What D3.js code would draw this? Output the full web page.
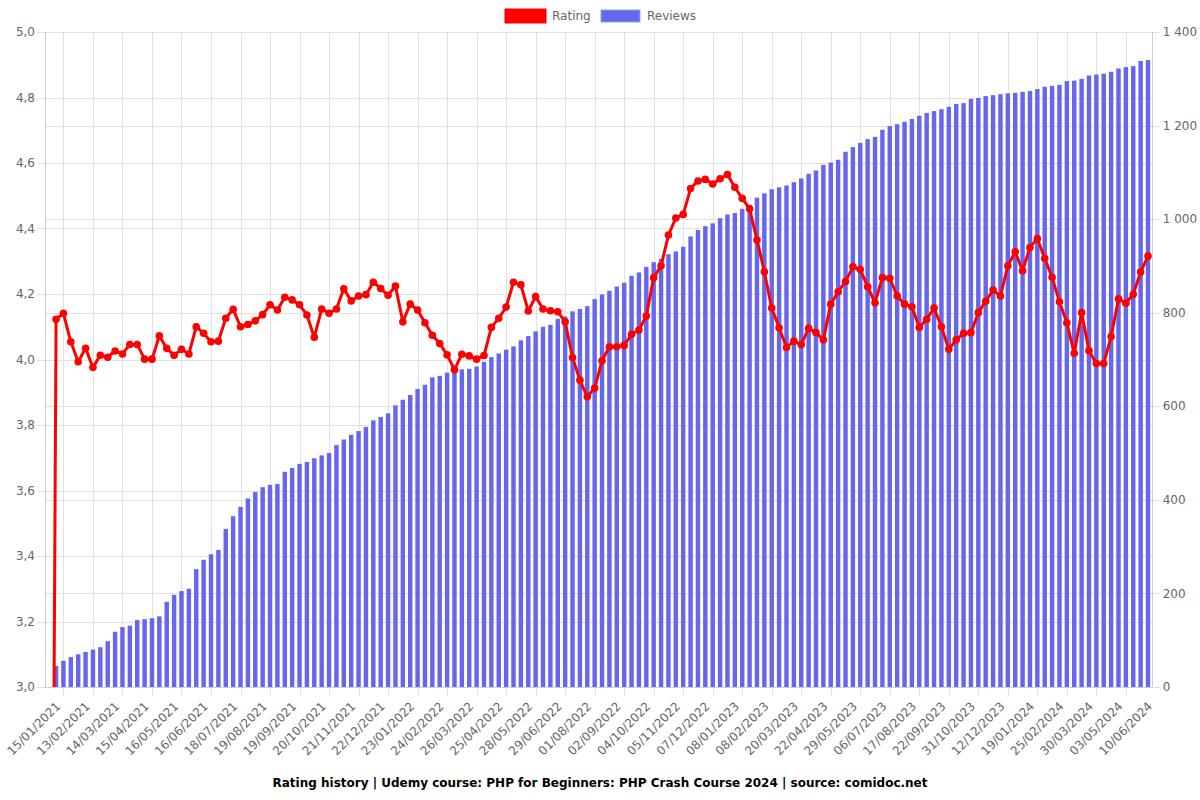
<!DOCTYPE html>
<html>
<head>
<meta charset="utf-8">
<script src="https://cdn.jsdelivr.net/npm/d3@7"></script>
<style>
  html, body { margin: 0; padding: 0; background: #fff; }
  svg { display: block; font-family: "DejaVu Sans", sans-serif; }
</style>
</head>
<body>
<svg id="chart" width="1200" height="800"></svg>
<script>
// ---------------- DATA ----------------
const dates = [
  "08/01/2021",
  "15/01/2021","22/01/2021","29/01/2021","06/02/2021",
  "13/02/2021","20/02/2021","27/02/2021","07/03/2021",
  "14/03/2021","22/03/2021","30/03/2021","07/04/2021",
  "15/04/2021","23/04/2021","30/04/2021","08/05/2021",
  "16/05/2021","24/05/2021","01/06/2021","08/06/2021",
  "16/06/2021","24/06/2021","02/07/2021","10/07/2021",
  "18/07/2021","26/07/2021","03/08/2021","11/08/2021",
  "19/08/2021","27/08/2021","04/09/2021","11/09/2021",
  "19/09/2021","27/09/2021","05/10/2021","12/10/2021",
  "20/10/2021","28/10/2021","05/11/2021","13/11/2021",
  "21/11/2021","29/11/2021","06/12/2021","14/12/2021",
  "22/12/2021","30/12/2021","07/01/2022","15/01/2022",
  "23/01/2022","31/01/2022","08/02/2022","16/02/2022",
  "24/02/2022","04/03/2022","11/03/2022","18/03/2022",
  "26/03/2022","02/04/2022","10/04/2022","17/04/2022",
  "25/04/2022","03/05/2022","11/05/2022","19/05/2022",
  "28/05/2022","05/06/2022","13/06/2022","21/06/2022",
  "29/06/2022","07/07/2022","15/07/2022","23/07/2022",
  "01/08/2022","09/08/2022","17/08/2022","25/08/2022",
  "02/09/2022","10/09/2022","18/09/2022","26/09/2022",
  "04/10/2022","12/10/2022","20/10/2022","28/10/2022",
  "05/11/2022","13/11/2022","21/11/2022","29/11/2022",
  "07/12/2022","15/12/2022","23/12/2022","31/12/2022",
  "08/01/2023","16/01/2023","24/01/2023","31/01/2023",
  "08/02/2023","18/02/2023","28/02/2023","10/03/2023",
  "20/03/2023","28/03/2023","05/04/2023","14/04/2023",
  "22/04/2023","01/05/2023","10/05/2023","20/05/2023",
  "29/05/2023","07/06/2023","17/06/2023","27/06/2023",
  "06/07/2023","17/07/2023","27/07/2023","06/08/2023",
  "17/08/2023","26/08/2023","04/09/2023","13/09/2023",
  "22/09/2023","02/10/2023","12/10/2023","21/10/2023",
  "31/10/2023","10/11/2023","21/11/2023","01/12/2023",
  "12/12/2023","21/12/2023","31/12/2023","09/01/2024",
  "19/01/2024","28/01/2024","06/02/2024","16/02/2024",
  "25/02/2024","04/03/2024","13/03/2024","21/03/2024",
  "30/03/2024","08/04/2024","16/04/2024","25/04/2024",
  "03/05/2024","13/05/2024","22/05/2024","31/05/2024",
  "10/06/2024"
];

const rating = [
  0,
  4.123,4.141,4.054,3.993,4.034,3.976,4.013,4.007,4.026,4.017,
  4.046,4.046,4.001,4.001,4.072,4.034,4.013,4.031,4.017,4.100,
  4.080,4.054,4.056,4.126,4.153,4.100,4.107,4.118,4.137,4.167,
  4.151,4.190,4.182,4.167,4.136,4.068,4.154,4.141,4.154,4.216,
  4.179,4.194,4.198,4.236,4.217,4.196,4.224,4.115,4.169,4.151,
  4.112,4.074,4.049,4.014,3.969,4.016,4.011,4.001,4.012,4.098,
  4.126,4.160,4.236,4.228,4.148,4.192,4.154,4.149,4.146,4.115,
  4.006,3.937,3.886,3.913,3.996,4.039,4.039,4.043,4.077,4.090,
  4.133,4.250,4.286,4.380,4.432,4.443,4.522,4.545,4.550,4.536,
  4.552,4.565,4.526,4.492,4.460,4.365,4.268,4.157,4.097,4.037,
  4.056,4.046,4.095,4.082,4.060,4.169,4.207,4.238,4.283,4.275,
  4.222,4.173,4.250,4.248,4.194,4.169,4.161,4.098,4.123,4.157,
  4.100,4.031,4.060,4.080,4.082,4.143,4.178,4.212,4.194,4.286,
  4.329,4.271,4.342,4.369,4.309,4.251,4.176,4.112,4.019,4.143,
  4.027,3.988,3.988,4.070,4.185,4.172,4.199,4.267,4.316
];

const reviews = [
  0,
  45,56,64,70,75,80,85,98,118,128,
  131,143,145,147,151,182,197,205,210,252,
  272,284,293,338,365,385,403,417,427,432,
  434,460,468,477,481,489,495,500,517,529,
  539,547,556,570,577,585,602,614,624,637,
  646,662,665,672,678,679,680,685,695,705,
  713,721,728,741,750,760,770,774,787,792,
  803,808,814,829,839,847,856,864,879,886,
  898,908,915,925,931,941,963,977,985,991,
  1002,1010,1013,1022,1031,1046,1055,1064,1068,1072,
  1079,1087,1097,1104,1116,1121,1127,1144,1154,1163,
  1171,1176,1191,1199,1203,1208,1214,1221,1227,1231,
  1235,1240,1246,1248,1257,1259,1263,1265,1267,1269,
  1270,1272,1274,1278,1283,1285,1287,1295,1296,1300,
  1307,1309,1311,1315,1322,1325,1327,1338,1340
];

const ratingTicks = [3.0,3.2,3.4,3.6,3.8,4.0,4.2,4.4,4.6,4.8,5.0];
const ratingTickLabels = ["3,0","3,2","3,4","3,6","3,8","4,0","4,2","4,4","4,6","4,8","5,0"];
const reviewTicks = [0,200,400,600,800,1000,1200,1400];
const reviewTickLabels = ["0","200","400","600","800","1\u00a0000","1\u00a0200","1\u00a0400"];

const seriesNames = ["Rating","Reviews"];
const seriesColors = ["#ff0000","#6666ee"];
const titleText = "Rating history | Udemy course: PHP for Beginners: PHP Crash Course 2024 | source: comidoc.net";

// ---------------- LAYOUT ----------------
const L = 45, R = 1151.7, T = 32, B = 687;
const gridColor = "#e1e1e1";
const textColor = "#666";

const svg = d3.select("#chart");

const x = d3.scaleBand().domain(dates).range([L, R]).paddingInner(0).paddingOuter(0);
const bw = x.bandwidth();
const cx = d => x(d) + bw / 2;
const yL = d3.scaleLinear().domain([3, 5]).range([B, T]);
const yR = d3.scaleLinear().domain([0, 1400]).range([B, T]);

// clip
svg.append("defs").append("clipPath").attr("id", "plotClip")
  .append("rect").attr("x", L).attr("y", T - 5).attr("width", R - L + 5).attr("height", B - T + 5);

// --- horizontal grid (left axis)
const gl = svg.append("g");
gl.selectAll("line").data(ratingTicks).join("line")
  .attr("x1", L - 8).attr("x2", R)
  .attr("y1", d => Math.round(yL(d)) + 0.5).attr("y2", d => Math.round(yL(d)) + 0.5)
  .attr("stroke", gridColor).attr("stroke-width", 1);
gl.selectAll("text").data(ratingTicks).join("text")
  .attr("x", L - 10).attr("y", d => yL(d)).attr("dy", "0.35em")
  .attr("text-anchor", "end").attr("font-size", 12).attr("fill", textColor)
  .text((d, i) => ratingTickLabels[i]);

// --- horizontal grid (right axis)
const gr = svg.append("g");
gr.selectAll("line").data(reviewTicks).join("line")
  .attr("x1", L).attr("x2", R + 8)
  .attr("y1", d => Math.round(yR(d)) + 0.5).attr("y2", d => Math.round(yR(d)) + 0.5)
  .attr("stroke", gridColor).attr("stroke-width", 1);
gr.selectAll("text").data(reviewTicks).join("text")
  .attr("x", R + 11).attr("y", d => yR(d)).attr("dy", "0.35em")
  .attr("text-anchor", "start").attr("font-size", 12).attr("fill", textColor)
  .text((d, i) => reviewTickLabels[i]);

// --- vertical grid lines
const gridDates = dates.filter((d, i) => i % 4 === 2);
svg.append("g").selectAll("line").data(gridDates).join("line")
  .attr("x1", d => Math.round(cx(d)) + 0.5).attr("x2", d => Math.round(cx(d)) + 0.5)
  .attr("y1", T).attr("y2", B + 8)
  .attr("stroke", gridColor).attr("stroke-width", 1);

// plot borders
svg.append("line").attr("x1", L + 0.5).attr("x2", L + 0.5).attr("y1", T).attr("y2", B)
  .attr("stroke", "#d0d0d0");
svg.append("line").attr("x1", Math.round(R) + 0.5).attr("x2", Math.round(R) + 0.5).attr("y1", T).attr("y2", B)
  .attr("stroke", "#d0d0d0");
svg.append("line").attr("x1", L).attr("x2", R).attr("y1", B + 0.5).attr("y2", B + 0.5)
  .attr("stroke", "#d0d0d0");

// --- x labels
const labelDates = dates.filter((d, i) => i % 4 === 1);
svg.append("g").selectAll("text").data(labelDates).join("text")
  .attr("transform", d => `translate(${cx(d) + 2},${B + 17}) rotate(-45)`)
  .attr("text-anchor", "end").attr("dy", "0.35em")
  .attr("font-size", 12).attr("fill", textColor)
  .text(d => d);

// --- bars
const barW = bw * 0.6;
svg.append("g").attr("clip-path", "url(#plotClip)")
  .selectAll("rect").data(dates).join("rect")
  .attr("x", d => cx(d) - barW / 2)
  .attr("width", barW)
  .attr("y", (d, i) => yR(reviews[i]))
  .attr("height", (d, i) => B - yR(reviews[i]))
  .attr("fill", seriesColors[1]);

// --- rating line
const lineG = svg.append("g").attr("clip-path", "url(#plotClip)");
const line = d3.line().x((d, i) => cx(dates[i])).y(d => yL(d));
lineG.append("path").datum(rating)
  .attr("d", line)
  .attr("fill", "none").attr("stroke", seriesColors[0]).attr("stroke-width", 3)
  .attr("stroke-linejoin", "round");
lineG.selectAll("circle").data(rating).join("circle")
  .attr("cx", (d, i) => cx(dates[i])).attr("cy", d => yL(d)).attr("r", 3.8)
  .attr("fill", seriesColors[0]);

// --- legend
const leg = svg.append("g");
const legX = [506, 601];
const legTextX = [552, 647];
seriesNames.forEach((name, i) => {
  if (i === 0) {
    leg.append("rect").attr("x", legX[i]).attr("y", 10).attr("width", 39).attr("height", 12)
      .attr("fill", seriesColors[i]).attr("stroke", seriesColors[i]).attr("stroke-width", 3);
  } else {
    leg.append("rect").attr("x", legX[i]).attr("y", 10).attr("width", 39).attr("height", 12)
      .attr("fill", seriesColors[i]).attr("stroke", "#9a9af5").attr("stroke-width", 1);
  }
  leg.append("text").attr("x", legTextX[i]).attr("y", 16).attr("dy", "0.35em")
    .attr("font-size", 12).attr("fill", textColor).text(name);
});

// --- title
svg.append("text").attr("x", 600).attr("y", 783).attr("dy", "0.35em")
  .attr("text-anchor", "middle").attr("font-size", 12).attr("font-weight", "bold")
  .attr("fill", "#000").text(titleText);
</script>
</body>
</html>
